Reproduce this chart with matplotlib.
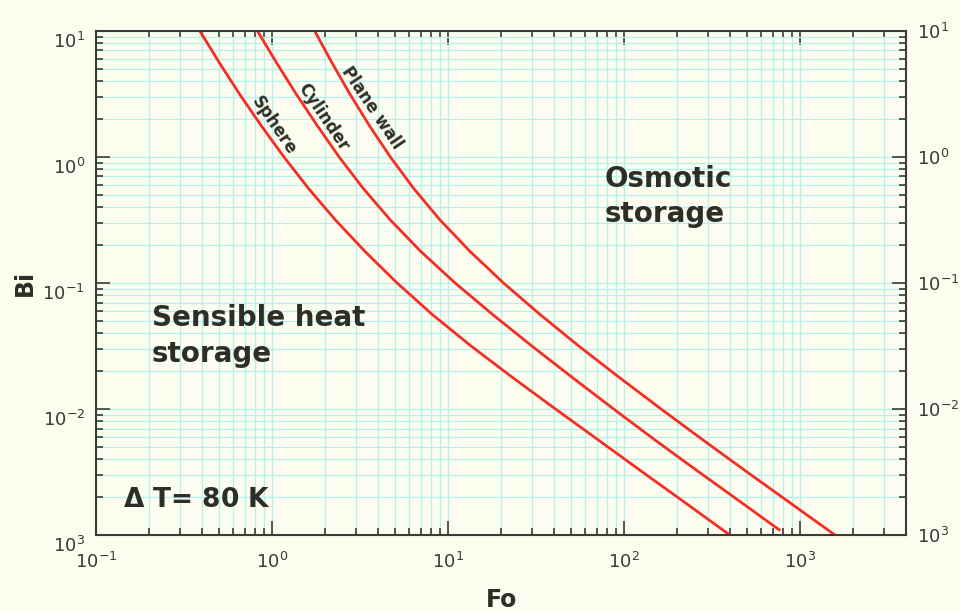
import numpy as np
import matplotlib
matplotlib.use("Agg")
import matplotlib.pyplot as plt
from matplotlib.ticker import LogLocator, NullFormatter
from matplotlib.transforms import ScaledTranslation

plt.rcParams['font.family'] = ['DejaVu Sans']
plt.rcParams['mathtext.default'] = 'regular'

# Biot numbers (quarter-decade steps)
bi = [10, 5.62, 3.16, 1.78, 1, 0.562, 0.316, 0.178, 0.1, 0.0562, 0.0316,
      0.0178, 0.01, 0.00562, 0.00316, 0.00178, 0.001]
bi_cyl = [10, 5.62, 3.16, 1.78, 1, 0.562, 0.316, 0.178, 0.1, 0.0562, 0.0316,
          0.0178, 0.01, 0.00562, 0.00316, 0.00178, 0.0011]

# Fourier numbers read at those Biot numbers
fo_sphere = [0.389, 0.501, 0.653, 0.866, 1.168, 1.612, 2.291, 3.37, 5.13,
             8.13, 13.5, 23.2, 40.7, 72.0, 127, 225, 398]
fo_cylinder = [0.826, 1.058, 1.371, 1.803, 2.404, 3.298, 4.699, 6.99, 10.96,
               17.9, 29.9, 50.7, 87.1, 151, 266, 471, 759]
fo_plane = [1.746, 2.185, 2.767, 3.565, 4.699, 6.376, 9.005, 13.32, 20.63,
            33.3, 55.2, 93.8, 162, 283, 499, 885, 1574]

xticks = [0.1, 1, 10, 100, 1000]
xtick_labels = ['$10^{-1}$', '$10^{0}$', '$10^{1}$', '$10^{2}$', '$10^{3}$']
yticks = [0.001, 0.01, 0.1, 1, 10]
ytick_labels = ['$10^{3}$', '$10^{-2}$', '$10^{-1}$', '$10^{0}$', '$10^{1}$']

bg = '#fdfdef'
red = '#f52e25'
txt = '#2e2e28'

fig = plt.figure(figsize=(9.6, 6.11), dpi=100, facecolor=bg)
ax = fig.add_axes([0.1, 0.1244, 0.844, 0.8249], facecolor=bg)

ax.plot(fo_sphere, bi, color=red, lw=2)
ax.plot(fo_cylinder, bi_cyl, color=red, lw=2)
ax.plot(fo_plane, bi, color=red, lw=2)

ax.set_xscale('log')
ax.set_yscale('log')
ax.set_xlim(0.1, 4000)
ax.set_ylim(0.001, 10)

ax.set_xticks(xticks, xtick_labels)
ax.set_yticks(yticks, ytick_labels)
ax.xaxis.set_minor_locator(LogLocator(base=10, subs=np.arange(2, 10)))
ax.yaxis.set_minor_locator(LogLocator(base=10, subs=np.arange(2, 10)))
ax.xaxis.set_minor_formatter(NullFormatter())
ax.yaxis.set_minor_formatter(NullFormatter())

ax.grid(True, which='both', color='#b3f1ee', lw=0.9)
ax.set_axisbelow(True)

ax.tick_params(which='both', direction='in', top=True, right=True,
               labelright=True, colors='#3a3a36', labelsize=13, width=1.2)
ax.tick_params(which='major', length=10)
ax.tick_params(which='minor', length=5)
ax.tick_params(axis='x', pad=12)
ax.tick_params(axis='y', pad=8)
for sp in ax.spines.values():
    sp.set_color('#3a3a36')
    sp.set_linewidth(1.5)

# left labels sit a little lower than their ticks
off = ScaledTranslation(0, -9 / 100, fig.dpi_scale_trans)
for t in ax.yaxis.get_major_ticks():
    t.label1.set_transform(t.label1.get_transform() + off)

ax.set_xlabel('Fo', fontsize=17, fontweight='bold', color=txt, labelpad=12)
ax.set_ylabel('Bi', fontsize=17, fontweight='bold', color=txt, labelpad=4)

# curve names
ax.text(0.22, 0.812, 'Sphere', transform=ax.transAxes, rotation=-56,
        fontsize=12, fontweight='bold', color=txt, ha='center', va='center')
ax.text(0.28, 0.829, 'Cylinder', transform=ax.transAxes, rotation=-56,
        fontsize=12, fontweight='bold', color=txt, ha='center', va='center')
ax.text(0.34, 0.847, 'Plane wall', transform=ax.transAxes, rotation=-56,
        fontsize=12, fontweight='bold', color=txt, ha='center', va='center')

# regions
ax.text(0.628, 0.735, 'Osmotic\nstorage', transform=ax.transAxes,
        fontsize=20, fontweight='bold', color=txt, ha='left', va='top',
        linespacing=1.33)
ax.text(0.069, 0.458, 'Sensible heat\nstorage', transform=ax.transAxes,
        fontsize=20, fontweight='bold', color=txt, ha='left', va='top',
        linespacing=1.35)
ax.text(0.033, 0.07, r'$\Delta$ T= 80 K', transform=ax.transAxes,
        fontsize=19, fontweight='bold', color=txt, ha='left', va='center')

fig.savefig('out.png', dpi=100, facecolor=bg)
